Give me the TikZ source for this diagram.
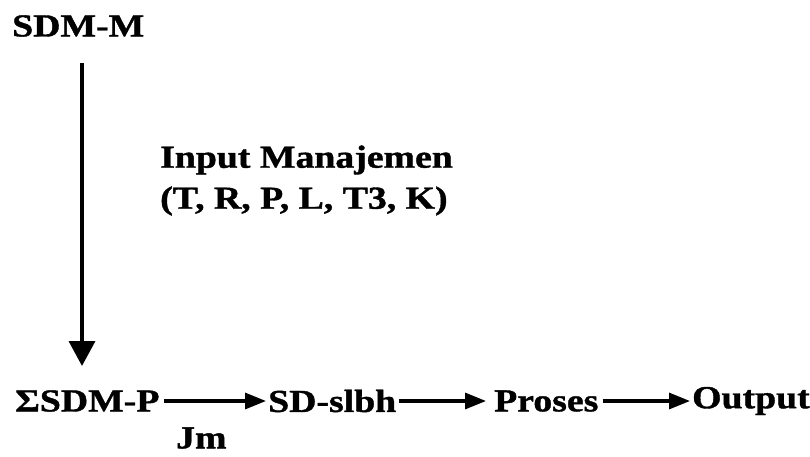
\documentclass[tikz,border=0pt]{standalone}
\usepackage{fontspec}
\setmainfont{Liberation Serif}[FakeStretch=1.18,BoldFeatures={FakeBold=1.2}]
\usetikzlibrary{arrows.meta}
\begin{document}
\begin{tikzpicture}[x=1pt,y=1pt,
  lbl/.style={font=\fontsize{32}{35}\selectfont\bfseries, inner sep=0pt, anchor=west},
  harr/.style={line width=3.2pt, -{Triangle[length=21pt,width=16pt]}},
  varr/.style={line width=3.6pt, -{Triangle[length=25pt,width=26pt]}}]
\useasboundingbox (0,0) rectangle (810,-457);

% top source and management input label
\node[lbl] (sdmm) at (12,-26) {SDM-M};
\node[lbl] (inp1) at (160,-160) {Input Manajemen};
\node[lbl] (inp2) at (160,-201) {(T, R, P, L, T3, K)};

% bottom chain
\node[lbl] (sdmp) at (15,-401) {ΣSDM-P};
\node[lbl] (sd)   at (268,-401) {SD-slbh};
\node[lbl] (pro)  at (494,-401) {Proses};
\node[lbl] (out)  at (692,-401) {Output};
\node[lbl] (jm)   at (176,-438) {Jm};

% vertical flow from SDM-M down to the chain
\coordinate (vtop) at (82,-63);
\coordinate (vbot) at (82,-366);
\draw[varr] (vtop) -- (vbot);

% horizontal flow
\draw[harr] ([xshift=4pt]sdmp.east) -- ([xshift=-2pt]sd.west);
\draw[harr] ([xshift=3pt]sd.east) -- ([xshift=-8pt]pro.west);
\draw[harr] ([xshift=4pt]pro.east) -- ([xshift=-2pt]out.west);
\end{tikzpicture}
\end{document}
